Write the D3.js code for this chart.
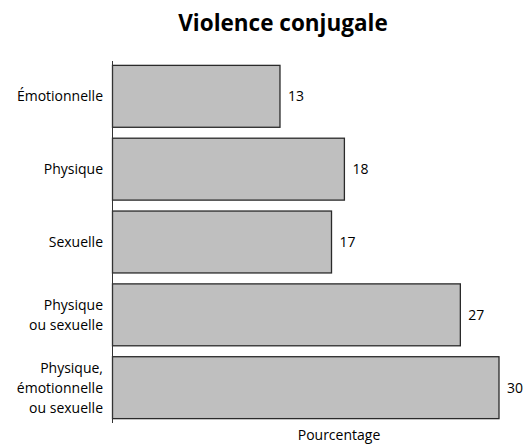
<!DOCTYPE html>
<html lang="fr">
<head>
	<meta charset="utf-8">
	<title>Violence conjugale</title>
	<script src="https://cdn.jsdelivr.net/npm/d3@7"></script>
	<style>
		body { margin: 0; background: #fff; }
		text { font-family: "Open Sans", "Noto Sans", sans-serif; fill: #000; }
	</style>
</head>
<body>
	<div id="chart"></div>
	<script>
		// data
		const categories = ["Émotionnelle", "Physique", "Sexuelle", "Physique\nou sexuelle", "Physique,\némotionnelle\nou sexuelle"];
		const values = [13, 18, 17, 27, 30];
		const title = "Violence conjugale";
		const xTitle = "Pourcentage";

		const W = 525, H = 444;
		const svg = d3.select("#chart").append("svg")
			.attr("width", W)
			.attr("height", H);

		// scales
		const x = d3.scaleLinear().domain([0, 30]).range([112.5, 499]);
		const y = d3.scaleBand().domain(categories).range([61, 423]).paddingInner(0.15).paddingOuter(0.06);

		// title
		svg.append("text")
			.attr("x", 283)
			.attr("y", 31)
			.attr("text-anchor", "middle")
			.style("font-size", "22.5px")
			.style("font-weight", "bold")
			.text(title);

		// bars
		svg.selectAll("rect.bar")
			.data(values)
			.join("rect")
			.attr("class", "bar")
			.attr("x", x(0))
			.attr("y", (d, i) => y(categories[i]))
			.attr("width", d => x(d) - x(0))
			.attr("height", y.bandwidth())
			.attr("fill", "#bfbfbf")
			.attr("stroke", "#2a2a2a")
			.attr("stroke-width", 1.3);

		// value labels
		svg.selectAll("text.val")
			.data(values)
			.join("text")
			.attr("class", "val")
			.attr("x", d => x(d) + 8)
			.attr("y", (d, i) => y(categories[i]) + y.bandwidth() / 2)
			.attr("dy", "0.35em")
			.style("font-size", "14px")
			.text(d => d);

		// y axis line (no ticks)
		svg.append("line")
			.attr("x1", x(0)).attr("x2", x(0))
			.attr("y1", 61).attr("y2", 423)
			.attr("stroke", "#333")
			.attr("stroke-width", 1);

		// category labels, possibly multi-line
		const lineH = 20;
		categories.forEach(c => {
			const lines = c.split("\n");
			const cy = y(c) + y.bandwidth() / 2;
			const t = svg.append("text")
				.attr("text-anchor", "end")
				.style("font-size", "14px");
			lines.forEach((l, j) => {
				t.append("tspan")
					.attr("x", 103)
					.attr("y", cy + (j - (lines.length - 1) / 2) * lineH)
					.attr("dy", "0.35em")
					.text(l);
			});
		});

		// x axis title
		svg.append("text")
			.attr("x", 339)
			.attr("y", 440)
			.attr("text-anchor", "middle")
			.style("font-size", "14px")
			.text(xTitle);
	</script>
</body>
</html>
